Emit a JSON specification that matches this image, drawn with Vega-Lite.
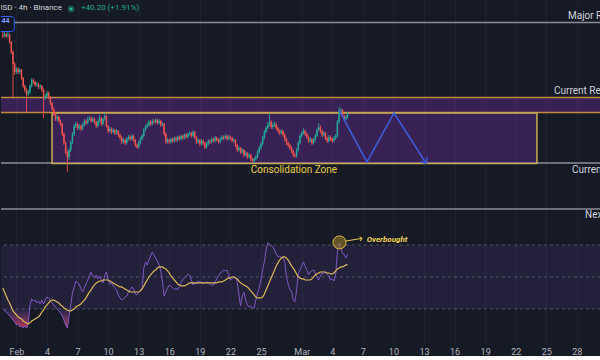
{
"$schema":"https://vega.github.io/schema/vega-lite/v6.json",
"background":"#161a25","padding":0,"spacing":0,
"config":{"view":{"stroke":null},"font":"Roboto"},
"datasets":{
"k":[
{"t":"2025-01-30T16:00Z","o":2330,"h":2336,"l":2324,"c":2328,"r":30.0,"m":43.1},
{"t":"2025-01-30T20:00Z","o":2328,"h":2336,"l":2325,"c":2332,"r":28.8,"m":40.6},
{"t":"2025-01-31T00:00Z","o":2332,"h":2334,"l":2324,"c":2328,"r":28.1,"m":38.1},
{"t":"2025-01-31T04:00Z","o":2328,"h":2340,"l":2325,"c":2330,"r":26.9,"m":35.6},
{"t":"2025-01-31T08:00Z","o":2330,"h":2333,"l":2313,"c":2316,"r":25.6,"m":33.8},
{"t":"2025-01-31T12:00Z","o":2316,"h":2318,"l":2292,"c":2296,"r":24.4,"m":31.3},
{"t":"2025-01-31T16:00Z","o":2296,"h":2299,"l":2206,"c":2272,"r":23.1,"m":28.8},
{"t":"2025-01-31T20:00Z","o":2272,"h":2276,"l":2250,"c":2256,"r":21.9,"m":27.5},
{"t":"2025-02-01T00:00Z","o":2256,"h":2266,"l":2252,"c":2262,"r":20.0,"m":26.3},
{"t":"2025-02-01T04:00Z","o":2262,"h":2265,"l":2252,"c":2256,"r":20.6,"m":25.0},
{"t":"2025-02-01T08:00Z","o":2256,"h":2264,"l":2252,"c":2260,"r":18.8,"m":24.4},
{"t":"2025-02-01T12:00Z","o":2260,"h":2262,"l":2240,"c":2244,"r":19.4,"m":23.8},
{"t":"2025-02-01T16:00Z","o":2244,"h":2246,"l":2224,"c":2228,"r":18.1,"m":22.5},
{"t":"2025-02-01T20:00Z","o":2228,"h":2231,"l":2215,"c":2220,"r":19.4,"m":21.9},
{"t":"2025-02-02T00:00Z","o":2220,"h":2223,"l":2176,"c":2212,"r":18.1,"m":21.3},
{"t":"2025-02-02T04:00Z","o":2212,"h":2220,"l":2208,"c":2216,"r":20.6,"m":20.6},
{"t":"2025-02-02T08:00Z","o":2216,"h":2231,"l":2212,"c":2228,"r":32.5,"m":21.3},
{"t":"2025-02-02T12:00Z","o":2228,"h":2244,"l":2225,"c":2240,"r":36.3,"m":22.5},
{"t":"2025-02-02T16:00Z","o":2240,"h":2243,"l":2232,"c":2236,"r":35.0,"m":23.1},
{"t":"2025-02-02T20:00Z","o":2236,"h":2239,"l":2226,"c":2230,"r":35.6,"m":23.8},
{"t":"2025-02-03T00:00Z","o":2230,"h":2236,"l":2227,"c":2232,"r":33.8,"m":24.4},
{"t":"2025-02-03T04:00Z","o":2232,"h":2235,"l":2222,"c":2226,"r":35.0,"m":25.0},
{"t":"2025-02-03T08:00Z","o":2226,"h":2232,"l":2223,"c":2228,"r":33.1,"m":26.3},
{"t":"2025-02-03T12:00Z","o":2228,"h":2230,"l":2216,"c":2220,"r":35.6,"m":28.1},
{"t":"2025-02-03T16:00Z","o":2220,"h":2223,"l":2164,"c":2204,"r":33.1,"m":29.4},
{"t":"2025-02-03T20:00Z","o":2204,"h":2212,"l":2200,"c":2208,"r":35.6,"m":31.3},
{"t":"2025-02-04T00:00Z","o":2208,"h":2218,"l":2205,"c":2214,"r":37.5,"m":32.5},
{"t":"2025-02-04T04:00Z","o":2214,"h":2217,"l":2202,"c":2206,"r":36.9,"m":33.8},
{"t":"2025-02-04T08:00Z","o":2206,"h":2208,"l":2190,"c":2194,"r":35.0,"m":35.0},
{"t":"2025-02-04T12:00Z","o":2194,"h":2196,"l":2178,"c":2182,"r":33.8,"m":35.6},
{"t":"2025-02-04T16:00Z","o":2182,"h":2185,"l":2168,"c":2172,"r":32.5,"m":35.6},
{"t":"2025-02-04T20:00Z","o":2172,"h":2175,"l":2158,"c":2162,"r":31.3,"m":35.0},
{"t":"2025-02-05T00:00Z","o":2162,"h":2170,"l":2158,"c":2166,"r":30.0,"m":34.4},
{"t":"2025-02-05T04:00Z","o":2166,"h":2168,"l":2154,"c":2158,"r":28.8,"m":33.8},
{"t":"2025-02-05T08:00Z","o":2158,"h":2161,"l":2148,"c":2152,"r":27.5,"m":32.5},
{"t":"2025-02-05T12:00Z","o":2152,"h":2154,"l":2128,"c":2132,"r":25.6,"m":31.9},
{"t":"2025-02-05T16:00Z","o":2132,"h":2135,"l":2110,"c":2114,"r":23.1,"m":30.6},
{"t":"2025-02-05T20:00Z","o":2114,"h":2117,"l":2092,"c":2096,"r":20.0,"m":30.0},
{"t":"2025-02-06T00:00Z","o":2096,"h":2099,"l":2056,"c":2086,"r":18.1,"m":29.4},
{"t":"2025-02-06T04:00Z","o":2086,"h":2104,"l":2080,"c":2100,"r":25.6,"m":28.8},
{"t":"2025-02-06T08:00Z","o":2100,"h":2119,"l":2096,"c":2116,"r":32.5,"m":28.8},
{"t":"2025-02-06T12:00Z","o":2116,"h":2135,"l":2112,"c":2132,"r":40.0,"m":29.4},
{"t":"2025-02-06T16:00Z","o":2132,"h":2152,"l":2128,"c":2148,"r":43.8,"m":30.0},
{"t":"2025-02-06T20:00Z","o":2148,"h":2157,"l":2144,"c":2152,"r":47.5,"m":31.3},
{"t":"2025-02-07T00:00Z","o":2152,"h":2155,"l":2140,"c":2144,"r":46.3,"m":31.9},
{"t":"2025-02-07T04:00Z","o":2144,"h":2152,"l":2140,"c":2148,"r":45.6,"m":32.5},
{"t":"2025-02-07T08:00Z","o":2148,"h":2151,"l":2138,"c":2142,"r":42.5,"m":33.1},
{"t":"2025-02-07T12:00Z","o":2142,"h":2154,"l":2139,"c":2150,"r":40.6,"m":34.4},
{"t":"2025-02-07T16:00Z","o":2150,"h":2162,"l":2147,"c":2158,"r":43.1,"m":35.6},
{"t":"2025-02-07T20:00Z","o":2158,"h":2161,"l":2150,"c":2154,"r":45.6,"m":36.9},
{"t":"2025-02-08T00:00Z","o":2154,"h":2166,"l":2151,"c":2162,"r":48.1,"m":38.8},
{"t":"2025-02-08T04:00Z","o":2162,"h":2168,"l":2159,"c":2164,"r":50.6,"m":40.6},
{"t":"2025-02-08T08:00Z","o":2164,"h":2167,"l":2155,"c":2158,"r":53.1,"m":41.9},
{"t":"2025-02-08T12:00Z","o":2158,"h":2166,"l":2155,"c":2162,"r":50.6,"m":43.8},
{"t":"2025-02-08T16:00Z","o":2162,"h":2165,"l":2152,"c":2156,"r":49.4,"m":45.0},
{"t":"2025-02-08T20:00Z","o":2156,"h":2158,"l":2144,"c":2148,"r":51.3,"m":46.3},
{"t":"2025-02-09T00:00Z","o":2148,"h":2161,"l":2145,"c":2158,"r":48.8,"m":46.9},
{"t":"2025-02-09T04:00Z","o":2158,"h":2170,"l":2155,"c":2164,"r":50.6,"m":47.5},
{"t":"2025-02-09T08:00Z","o":2164,"h":2166,"l":2148,"c":2152,"r":48.1,"m":47.5},
{"t":"2025-02-09T12:00Z","o":2152,"h":2165,"l":2149,"c":2162,"r":46.3,"m":48.1},
{"t":"2025-02-09T16:00Z","o":2162,"h":2174,"l":2159,"c":2168,"r":50.6,"m":48.1},
{"t":"2025-02-09T20:00Z","o":2168,"h":2170,"l":2145,"c":2148,"r":53.1,"m":48.1},
{"t":"2025-02-10T00:00Z","o":2148,"h":2150,"l":2134,"c":2138,"r":48.1,"m":48.1},
{"t":"2025-02-10T04:00Z","o":2138,"h":2146,"l":2135,"c":2142,"r":45.6,"m":47.5},
{"t":"2025-02-10T08:00Z","o":2142,"h":2145,"l":2132,"c":2136,"r":46.3,"m":46.9},
{"t":"2025-02-10T12:00Z","o":2136,"h":2144,"l":2133,"c":2140,"r":44.4,"m":46.3},
{"t":"2025-02-10T16:00Z","o":2140,"h":2142,"l":2130,"c":2134,"r":43.1,"m":45.6},
{"t":"2025-02-10T20:00Z","o":2134,"h":2142,"l":2131,"c":2138,"r":41.9,"m":45.0},
{"t":"2025-02-11T00:00Z","o":2138,"h":2140,"l":2126,"c":2130,"r":38.8,"m":44.4},
{"t":"2025-02-11T04:00Z","o":2130,"h":2133,"l":2120,"c":2124,"r":36.9,"m":43.8},
{"t":"2025-02-11T08:00Z","o":2124,"h":2127,"l":2112,"c":2116,"r":35.6,"m":43.8},
{"t":"2025-02-11T12:00Z","o":2116,"h":2124,"l":2113,"c":2120,"r":36.3,"m":43.1},
{"t":"2025-02-11T16:00Z","o":2120,"h":2123,"l":2110,"c":2114,"r":37.5,"m":42.5},
{"t":"2025-02-11T20:00Z","o":2114,"h":2126,"l":2111,"c":2122,"r":38.1,"m":41.9},
{"t":"2025-02-12T00:00Z","o":2122,"h":2130,"l":2119,"c":2126,"r":40.6,"m":41.3},
{"t":"2025-02-12T04:00Z","o":2126,"h":2129,"l":2118,"c":2122,"r":41.9,"m":40.6},
{"t":"2025-02-12T08:00Z","o":2122,"h":2132,"l":2119,"c":2128,"r":43.8,"m":40.6},
{"t":"2025-02-12T12:00Z","o":2128,"h":2131,"l":2116,"c":2120,"r":42.5,"m":40.6},
{"t":"2025-02-12T16:00Z","o":2120,"h":2122,"l":2106,"c":2110,"r":39.4,"m":40.6},
{"t":"2025-02-12T20:00Z","o":2110,"h":2113,"l":2102,"c":2106,"r":38.8,"m":40.6},
{"t":"2025-02-13T00:00Z","o":2106,"h":2118,"l":2103,"c":2114,"r":40.6,"m":40.6},
{"t":"2025-02-13T04:00Z","o":2114,"h":2126,"l":2111,"c":2122,"r":41.3,"m":41.3},
{"t":"2025-02-13T08:00Z","o":2122,"h":2132,"l":2119,"c":2128,"r":43.1,"m":42.5},
{"t":"2025-02-13T12:00Z","o":2128,"h":2144,"l":2125,"c":2140,"r":55.6,"m":44.4},
{"t":"2025-02-13T16:00Z","o":2140,"h":2150,"l":2137,"c":2146,"r":59.4,"m":46.3},
{"t":"2025-02-13T20:00Z","o":2146,"h":2154,"l":2143,"c":2150,"r":57.5,"m":48.1},
{"t":"2025-02-14T00:00Z","o":2150,"h":2160,"l":2147,"c":2156,"r":60.6,"m":50.0},
{"t":"2025-02-14T04:00Z","o":2156,"h":2159,"l":2148,"c":2152,"r":63.1,"m":51.3},
{"t":"2025-02-14T08:00Z","o":2152,"h":2162,"l":2149,"c":2158,"r":65.6,"m":52.5},
{"t":"2025-02-14T12:00Z","o":2158,"h":2161,"l":2152,"c":2156,"r":63.8,"m":53.8},
{"t":"2025-02-14T16:00Z","o":2156,"h":2164,"l":2153,"c":2160,"r":61.9,"m":54.4},
{"t":"2025-02-14T20:00Z","o":2160,"h":2163,"l":2151,"c":2154,"r":60.0,"m":55.6},
{"t":"2025-02-15T00:00Z","o":2154,"h":2162,"l":2151,"c":2158,"r":57.5,"m":56.3},
{"t":"2025-02-15T04:00Z","o":2158,"h":2160,"l":2146,"c":2150,"r":54.4,"m":56.3},
{"t":"2025-02-15T08:00Z","o":2150,"h":2156,"l":2147,"c":2152,"r":46.9,"m":56.3},
{"t":"2025-02-15T12:00Z","o":2152,"h":2154,"l":2128,"c":2132,"r":38.1,"m":55.6},
{"t":"2025-02-15T16:00Z","o":2132,"h":2135,"l":2112,"c":2116,"r":40.6,"m":55.0},
{"t":"2025-02-15T20:00Z","o":2116,"h":2124,"l":2113,"c":2120,"r":43.1,"m":53.8},
{"t":"2025-02-16T00:00Z","o":2120,"h":2123,"l":2112,"c":2116,"r":45.0,"m":52.5},
{"t":"2025-02-16T04:00Z","o":2116,"h":2125,"l":2113,"c":2122,"r":44.4,"m":50.6},
{"t":"2025-02-16T08:00Z","o":2122,"h":2125,"l":2114,"c":2118,"r":43.1,"m":49.4},
{"t":"2025-02-16T12:00Z","o":2118,"h":2127,"l":2115,"c":2124,"r":41.9,"m":48.1},
{"t":"2025-02-16T16:00Z","o":2124,"h":2127,"l":2116,"c":2120,"r":43.1,"m":46.9},
{"t":"2025-02-16T20:00Z","o":2120,"h":2129,"l":2117,"c":2126,"r":41.9,"m":45.6},
{"t":"2025-02-17T00:00Z","o":2126,"h":2129,"l":2119,"c":2122,"r":44.4,"m":45.0},
{"t":"2025-02-17T04:00Z","o":2122,"h":2131,"l":2119,"c":2128,"r":46.3,"m":44.4},
{"t":"2025-02-17T08:00Z","o":2128,"h":2131,"l":2121,"c":2124,"r":48.8,"m":44.4},
{"t":"2025-02-17T12:00Z","o":2124,"h":2133,"l":2121,"c":2130,"r":49.4,"m":44.4},
{"t":"2025-02-17T16:00Z","o":2130,"h":2133,"l":2123,"c":2126,"r":50.6,"m":45.0},
{"t":"2025-02-17T20:00Z","o":2126,"h":2135,"l":2123,"c":2132,"r":51.9,"m":45.6},
{"t":"2025-02-18T00:00Z","o":2132,"h":2138,"l":2129,"c":2134,"r":51.3,"m":46.3},
{"t":"2025-02-18T04:00Z","o":2134,"h":2136,"l":2125,"c":2128,"r":48.1,"m":46.3},
{"t":"2025-02-18T08:00Z","o":2128,"h":2140,"l":2125,"c":2136,"r":45.0,"m":46.3},
{"t":"2025-02-18T12:00Z","o":2136,"h":2138,"l":2122,"c":2126,"r":46.3,"m":46.3},
{"t":"2025-02-18T16:00Z","o":2126,"h":2128,"l":2112,"c":2116,"r":45.6,"m":46.3},
{"t":"2025-02-18T20:00Z","o":2116,"h":2124,"l":2113,"c":2120,"r":47.5,"m":46.3},
{"t":"2025-02-19T00:00Z","o":2120,"h":2122,"l":2108,"c":2112,"r":46.9,"m":46.3},
{"t":"2025-02-19T04:00Z","o":2112,"h":2122,"l":2109,"c":2118,"r":46.9,"m":46.3},
{"t":"2025-02-19T08:00Z","o":2118,"h":2121,"l":2110,"c":2114,"r":45.6,"m":46.3},
{"t":"2025-02-19T12:00Z","o":2114,"h":2116,"l":2102,"c":2106,"r":46.3,"m":46.3},
{"t":"2025-02-19T16:00Z","o":2106,"h":2116,"l":2103,"c":2112,"r":46.9,"m":46.3},
{"t":"2025-02-19T20:00Z","o":2112,"h":2122,"l":2109,"c":2118,"r":46.3,"m":46.3},
{"t":"2025-02-20T00:00Z","o":2118,"h":2121,"l":2112,"c":2116,"r":45.6,"m":46.3},
{"t":"2025-02-20T04:00Z","o":2116,"h":2126,"l":2113,"c":2122,"r":45.0,"m":46.3},
{"t":"2025-02-20T08:00Z","o":2122,"h":2125,"l":2115,"c":2118,"r":45.0,"m":46.3},
{"t":"2025-02-20T12:00Z","o":2118,"h":2128,"l":2115,"c":2124,"r":46.9,"m":46.3},
{"t":"2025-02-20T16:00Z","o":2124,"h":2127,"l":2117,"c":2120,"r":48.8,"m":46.3},
{"t":"2025-02-20T20:00Z","o":2120,"h":2123,"l":2113,"c":2116,"r":50.6,"m":46.9},
{"t":"2025-02-21T00:00Z","o":2116,"h":2126,"l":2113,"c":2122,"r":52.5,"m":46.9},
{"t":"2025-02-21T04:00Z","o":2122,"h":2130,"l":2119,"c":2126,"r":53.1,"m":46.9},
{"t":"2025-02-21T08:00Z","o":2126,"h":2129,"l":2120,"c":2124,"r":54.4,"m":47.5},
{"t":"2025-02-21T12:00Z","o":2124,"h":2132,"l":2121,"c":2128,"r":53.8,"m":48.1},
{"t":"2025-02-21T16:00Z","o":2128,"h":2131,"l":2119,"c":2122,"r":54.4,"m":48.8},
{"t":"2025-02-21T20:00Z","o":2122,"h":2130,"l":2119,"c":2126,"r":51.3,"m":49.4},
{"t":"2025-02-22T00:00Z","o":2126,"h":2129,"l":2121,"c":2124,"r":48.1,"m":49.4},
{"t":"2025-02-22T04:00Z","o":2124,"h":2127,"l":2115,"c":2118,"r":48.8,"m":50.0},
{"t":"2025-02-22T08:00Z","o":2118,"h":2124,"l":2115,"c":2120,"r":50.0,"m":50.0},
{"t":"2025-02-22T12:00Z","o":2120,"h":2122,"l":2106,"c":2110,"r":50.0,"m":49.4},
{"t":"2025-02-22T16:00Z","o":2110,"h":2112,"l":2096,"c":2100,"r":46.9,"m":48.8},
{"t":"2025-02-22T20:00Z","o":2100,"h":2108,"l":2097,"c":2104,"r":38.8,"m":47.5},
{"t":"2025-02-23T00:00Z","o":2104,"h":2106,"l":2092,"c":2096,"r":31.9,"m":46.3},
{"t":"2025-02-23T04:00Z","o":2096,"h":2104,"l":2093,"c":2100,"r":38.1,"m":45.6},
{"t":"2025-02-23T08:00Z","o":2100,"h":2102,"l":2086,"c":2090,"r":40.6,"m":45.0},
{"t":"2025-02-23T12:00Z","o":2090,"h":2098,"l":2087,"c":2094,"r":35.6,"m":44.4},
{"t":"2025-02-23T16:00Z","o":2094,"h":2096,"l":2082,"c":2086,"r":32.5,"m":43.8},
{"t":"2025-02-23T20:00Z","o":2086,"h":2094,"l":2083,"c":2090,"r":31.3,"m":42.5},
{"t":"2025-02-24T00:00Z","o":2090,"h":2092,"l":2078,"c":2082,"r":31.9,"m":41.3},
{"t":"2025-02-24T04:00Z","o":2082,"h":2085,"l":2075,"c":2078,"r":30.6,"m":40.0},
{"t":"2025-02-24T08:00Z","o":2078,"h":2085,"l":2074,"c":2082,"r":30.6,"m":38.8},
{"t":"2025-02-24T12:00Z","o":2082,"h":2090,"l":2079,"c":2086,"r":35.6,"m":37.5},
{"t":"2025-02-24T16:00Z","o":2086,"h":2100,"l":2083,"c":2096,"r":40.0,"m":36.9},
{"t":"2025-02-24T20:00Z","o":2096,"h":2108,"l":2093,"c":2104,"r":43.1,"m":36.9},
{"t":"2025-02-25T00:00Z","o":2104,"h":2116,"l":2101,"c":2112,"r":48.1,"m":36.9},
{"t":"2025-02-25T04:00Z","o":2112,"h":2128,"l":2109,"c":2124,"r":54.4,"m":37.5},
{"t":"2025-02-25T08:00Z","o":2124,"h":2140,"l":2121,"c":2136,"r":59.4,"m":39.4},
{"t":"2025-02-25T12:00Z","o":2136,"h":2148,"l":2133,"c":2144,"r":66.9,"m":41.9},
{"t":"2025-02-25T16:00Z","o":2144,"h":2156,"l":2141,"c":2150,"r":71.3,"m":44.4},
{"t":"2025-02-25T20:00Z","o":2150,"h":2174,"l":2147,"c":2156,"r":70.6,"m":46.9},
{"t":"2025-02-26T00:00Z","o":2156,"h":2160,"l":2142,"c":2146,"r":69.4,"m":49.4},
{"t":"2025-02-26T04:00Z","o":2146,"h":2155,"l":2142,"c":2150,"r":68.8,"m":51.9},
{"t":"2025-02-26T08:00Z","o":2150,"h":2157,"l":2146,"c":2152,"r":66.9,"m":54.4},
{"t":"2025-02-26T12:00Z","o":2152,"h":2155,"l":2140,"c":2144,"r":64.4,"m":56.9},
{"t":"2025-02-26T16:00Z","o":2144,"h":2147,"l":2134,"c":2138,"r":62.5,"m":58.8},
{"t":"2025-02-26T20:00Z","o":2138,"h":2141,"l":2130,"c":2134,"r":63.1,"m":60.6},
{"t":"2025-02-27T00:00Z","o":2134,"h":2142,"l":2131,"c":2138,"r":61.9,"m":61.9},
{"t":"2025-02-27T04:00Z","o":2138,"h":2140,"l":2126,"c":2130,"r":61.9,"m":62.5},
{"t":"2025-02-27T08:00Z","o":2130,"h":2133,"l":2118,"c":2122,"r":59.4,"m":62.5},
{"t":"2025-02-27T12:00Z","o":2122,"h":2125,"l":2110,"c":2114,"r":50.0,"m":61.9},
{"t":"2025-02-27T16:00Z","o":2114,"h":2117,"l":2106,"c":2110,"r":45.6,"m":60.6},
{"t":"2025-02-27T20:00Z","o":2110,"h":2113,"l":2100,"c":2104,"r":41.9,"m":58.8},
{"t":"2025-02-28T00:00Z","o":2104,"h":2107,"l":2094,"c":2098,"r":41.3,"m":56.9},
{"t":"2025-02-28T04:00Z","o":2098,"h":2101,"l":2086,"c":2090,"r":35.6,"m":55.6},
{"t":"2025-02-28T08:00Z","o":2090,"h":2094,"l":2084,"c":2088,"r":34.4,"m":53.8},
{"t":"2025-02-28T12:00Z","o":2088,"h":2104,"l":2085,"c":2100,"r":41.9,"m":51.9},
{"t":"2025-02-28T16:00Z","o":2100,"h":2118,"l":2097,"c":2114,"r":51.9,"m":50.0},
{"t":"2025-02-28T20:00Z","o":2114,"h":2132,"l":2111,"c":2128,"r":54.4,"m":49.4},
{"t":"2025-03-01T00:00Z","o":2128,"h":2138,"l":2125,"c":2134,"r":56.9,"m":48.8},
{"t":"2025-03-01T04:00Z","o":2134,"h":2144,"l":2131,"c":2138,"r":59.4,"m":48.8},
{"t":"2025-03-01T08:00Z","o":2138,"h":2141,"l":2128,"c":2132,"r":56.9,"m":48.1},
{"t":"2025-03-01T12:00Z","o":2132,"h":2135,"l":2122,"c":2126,"r":54.4,"m":48.1},
{"t":"2025-03-01T16:00Z","o":2126,"h":2129,"l":2114,"c":2118,"r":51.3,"m":48.1},
{"t":"2025-03-01T20:00Z","o":2118,"h":2126,"l":2115,"c":2122,"r":53.1,"m":48.1},
{"t":"2025-03-02T00:00Z","o":2122,"h":2124,"l":2110,"c":2114,"r":53.8,"m":48.8},
{"t":"2025-03-02T04:00Z","o":2114,"h":2124,"l":2111,"c":2120,"r":54.4,"m":50.0},
{"t":"2025-03-02T08:00Z","o":2120,"h":2132,"l":2117,"c":2128,"r":52.5,"m":51.3},
{"t":"2025-03-02T12:00Z","o":2128,"h":2144,"l":2125,"c":2140,"r":50.0,"m":51.9},
{"t":"2025-03-02T16:00Z","o":2140,"h":2154,"l":2137,"c":2146,"r":48.1,"m":52.5},
{"t":"2025-03-02T20:00Z","o":2146,"h":2149,"l":2134,"c":2138,"r":50.6,"m":53.1},
{"t":"2025-03-03T00:00Z","o":2138,"h":2141,"l":2126,"c":2130,"r":52.5,"m":53.1},
{"t":"2025-03-03T04:00Z","o":2130,"h":2138,"l":2127,"c":2134,"r":51.9,"m":53.1},
{"t":"2025-03-03T08:00Z","o":2134,"h":2136,"l":2120,"c":2124,"r":53.1,"m":53.1},
{"t":"2025-03-03T12:00Z","o":2124,"h":2127,"l":2114,"c":2118,"r":51.3,"m":52.5},
{"t":"2025-03-03T16:00Z","o":2118,"h":2130,"l":2115,"c":2126,"r":50.6,"m":52.5},
{"t":"2025-03-03T20:00Z","o":2126,"h":2129,"l":2118,"c":2122,"r":48.1,"m":51.9},
{"t":"2025-03-04T00:00Z","o":2122,"h":2125,"l":2114,"c":2118,"r":48.8,"m":51.9},
{"t":"2025-03-04T04:00Z","o":2118,"h":2128,"l":2115,"c":2124,"r":47.5,"m":52.5},
{"t":"2025-03-04T08:00Z","o":2124,"h":2132,"l":2121,"c":2128,"r":51.3,"m":53.8},
{"t":"2025-03-04T12:00Z","o":2128,"h":2160,"l":2125,"c":2156,"r":65.6,"m":55.0},
{"t":"2025-03-04T16:00Z","o":2156,"h":2186,"l":2153,"c":2178,"r":71.3,"m":55.6},
{"t":"2025-03-04T20:00Z","o":2178,"h":2184,"l":2172,"c":2180,"r":68.1,"m":56.3},
{"t":"2025-03-05T00:00Z","o":2180,"h":2182,"l":2164,"c":2168,"r":65.0,"m":56.3},
{"t":"2025-03-05T04:00Z","o":2168,"h":2170,"l":2158,"c":2162,"r":63.8,"m":56.9},
{"t":"2025-03-05T08:00Z","o":2162,"h":2170,"l":2159,"c":2166,"r":61.9,"m":57.5},
{"t":"2025-03-05T12:00Z","o":2166,"h":2176,"l":2162,"c":2172,"r":64.4,"m":57.5}
],
"os":[
{"t":"2025-01-30T16:00Z","r":30.0,"s":"a"},{"t":"2025-01-30T20:00Z","r":28.8,"s":"a"},{"t":"2025-01-31T00:00Z","r":28.1,"s":"a"},{"t":"2025-01-31T04:00Z","r":26.9,"s":"a"},{"t":"2025-01-31T08:00Z","r":25.6,"s":"a"},{"t":"2025-01-31T12:00Z","r":24.4,"s":"a"},{"t":"2025-01-31T16:00Z","r":23.1,"s":"a"},{"t":"2025-01-31T20:00Z","r":21.9,"s":"a"},{"t":"2025-02-01T00:00Z","r":20.0,"s":"a"},{"t":"2025-02-01T04:00Z","r":20.6,"s":"a"},{"t":"2025-02-01T08:00Z","r":18.8,"s":"a"},{"t":"2025-02-01T12:00Z","r":19.4,"s":"a"},{"t":"2025-02-01T16:00Z","r":18.1,"s":"a"},{"t":"2025-02-01T20:00Z","r":19.4,"s":"a"},{"t":"2025-02-02T00:00Z","r":18.1,"s":"a"},{"t":"2025-02-02T04:00Z","r":20.6,"s":"a"},{"t":"2025-02-02T07:10Z","r":30.0,"s":"a"},
{"t":"2025-02-05T00:00Z","r":30.0,"s":"b"},{"t":"2025-02-05T04:00Z","r":28.8,"s":"b"},{"t":"2025-02-05T08:00Z","r":27.5,"s":"b"},{"t":"2025-02-05T12:00Z","r":25.6,"s":"b"},{"t":"2025-02-05T16:00Z","r":23.1,"s":"b"},{"t":"2025-02-05T20:00Z","r":20.0,"s":"b"},{"t":"2025-02-06T00:00Z","r":18.1,"s":"b"},{"t":"2025-02-06T04:00Z","r":25.6,"s":"b"},{"t":"2025-02-06T06:33Z","r":30.0,"s":"b"}
]
},
"vconcat":[
{
"width":600,"height":228,
"encoding":{"x":{"field":"t","type":"temporal","scale":{"type":"utc","domain":[{"year":2025,"month":1,"date":30,"hours":11,"minutes":44,"utc":true},{"year":2025,"month":3,"date":30,"hours":8,"minutes":53,"utc":true}]},
"axis":{"title":null,"labels":false,"ticks":false,"domain":false,"grid":true,"gridColor":"#1f2330","values":[{"year":2025,"month":2,"date":1,"utc":true},{"year":2025,"month":2,"date":4,"utc":true},{"year":2025,"month":2,"date":7,"utc":true},{"year":2025,"month":2,"date":10,"utc":true},{"year":2025,"month":2,"date":13,"utc":true},{"year":2025,"month":2,"date":16,"utc":true},{"year":2025,"month":2,"date":19,"utc":true},{"year":2025,"month":2,"date":22,"utc":true},{"year":2025,"month":2,"date":25,"utc":true},{"year":2025,"month":3,"date":1,"utc":true},{"year":2025,"month":3,"date":4,"utc":true},{"year":2025,"month":3,"date":7,"utc":true},{"year":2025,"month":3,"date":10,"utc":true},{"year":2025,"month":3,"date":13,"utc":true},{"year":2025,"month":3,"date":16,"utc":true},{"year":2025,"month":3,"date":19,"utc":true},{"year":2025,"month":3,"date":22,"utc":true},{"year":2025,"month":3,"date":25,"utc":true},{"year":2025,"month":3,"date":28,"utc":true}]}}},
"layer":[
{"data":{"values":[{"t":"2025-01-29T00:00Z","t2":"2025-04-05T00:00Z","p":2355},{"t":"2025-01-29T00:00Z","t2":"2025-04-05T00:00Z","p":2074},{"t":"2025-01-29T00:00Z","t2":"2025-04-05T00:00Z","p":1982}]},
 "mark":{"type":"rule","color":"#8c8f98","strokeWidth":1.5,"clip":true},
 "encoding":{"x2":{"field":"t2"},"y":{"field":"p","type":"quantitative","scale":{"domain":[1944,2400],"zero":false,"nice":false},"axis":null}}},
{"data":{"values":[{"t":"2025-01-29T00:00Z","t2":"2025-04-05T00:00Z","p":2175,"p2":2205}]},
 "mark":{"type":"rect","fill":"#6a2a98","fillOpacity":0.42,"stroke":"#c5893e","strokeWidth":1.5,"clip":true},
 "encoding":{"x2":{"field":"t2"},"y":{"field":"p","type":"quantitative","scale":{"domain":[1944,2400],"zero":false,"nice":false},"axis":null},"y2":{"field":"p2"}}},
{"data":{"values":[{"t":"2025-02-04T11:50Z","t2":"2025-03-24T02:00Z","p":2073,"p2":2174}]},
 "mark":{"type":"rect","fill":"#6a2a98","fillOpacity":0.42,"stroke":"#c8ad55","strokeWidth":1.5,"clip":true},
 "encoding":{"x2":{"field":"t2"},"y":{"field":"p","type":"quantitative","scale":{"domain":[1944,2400],"zero":false,"nice":false},"axis":null},"y2":{"field":"p2"}}},
{"data":{"name":"k"},
 "mark":{"type":"rule","strokeWidth":0.9},
 "encoding":{"y":{"field":"l","type":"quantitative","scale":{"domain":[1944,2400],"zero":false,"nice":false},"axis":null},"y2":{"field":"h"},
 "color":{"condition":{"test":"datum.c >= datum.o","value":"#26a69a"},"value":"#ef5350"}}},
{"data":{"name":"k"},
 "mark":{"type":"rule","strokeWidth":1.5},
 "encoding":{"y":{"field":"o","type":"quantitative","scale":{"domain":[1944,2400],"zero":false,"nice":false},"axis":null},"y2":{"field":"c"},
 "color":{"condition":{"test":"datum.c >= datum.o","value":"#26a69a"},"value":"#ef5350"}}},
{"data":{"values":[{"t":"2025-03-04T15:36Z","p":2180},{"t":"2025-03-07T09:36Z","p":2076},{"t":"2025-03-10T01:12Z","p":2174},{"t":"2025-03-13T04:48Z","p":2074}]},
 "mark":{"type":"line","color":"#3c5ad2","strokeWidth":1.6},
 "encoding":{"y":{"field":"p","type":"quantitative","scale":{"domain":[1944,2400],"zero":false,"nice":false},"axis":null}}},
{"data":{"values":[{"t":"2025-03-13T04:48Z","p":2074}]},
 "mark":{"type":"point","shape":"M-1,-1L0,0L-1,1","filled":false,"color":"#3c5ad2","strokeWidth":1.6,"size":70,"angle":57,"opacity":1},
 "encoding":{"y":{"field":"p","type":"quantitative","scale":{"domain":[1944,2400],"zero":false,"nice":false},"axis":null}}},
{"data":{"values":[{"t":"2025-03-27T03:07Z","p":2368,"s":"Major Resistance"},{"t":"2025-03-25T18:14Z","p":2218,"s":"Current Resistance"},{"t":"2025-03-27T12:30Z","p":2061,"s":"Current Support"},{"t":"2025-03-28T19:12Z","p":1970,"s":"Next Support"}]},
 "mark":{"type":"text","align":"left","baseline":"middle","fontSize":10,"color":"#d1d4dc","clip":true},
 "encoding":{"y":{"field":"p","type":"quantitative","scale":{"domain":[1944,2400],"zero":false,"nice":false},"axis":null},"text":{"field":"s"}}},
{"data":{"values":[{"t":"2025-02-28T05:45Z","p":2060,"s":"Consolidation Zone"}]},
 "mark":{"type":"text","align":"center","baseline":"middle","fontSize":10,"color":"#e9cf45"},
 "encoding":{"y":{"field":"p","type":"quantitative","scale":{"domain":[1944,2400],"zero":false,"nice":false},"axis":null},"text":{"field":"s"}}},
{"data":{"values":[{"t":"2025-02-05T11:24Z","p":2384,"s":"ETHUSD · 4h · Binance"}]},
 "mark":{"type":"text","align":"right","baseline":"middle","fontSize":8,"color":"#d1d4dc","clip":true},
 "encoding":{"y":{"field":"p","type":"quantitative","scale":{"domain":[1944,2400],"zero":false,"nice":false},"axis":null},"text":{"field":"s"}}},
{"data":{"values":[{"t":"2025-02-06T08:40Z","p":2382}]},
 "mark":{"type":"point","shape":"circle","filled":true,"size":22,"fill":"#2bbf9f","stroke":"#1a5a50","strokeWidth":2,"opacity":1},
 "encoding":{"y":{"field":"p","type":"quantitative","scale":{"domain":[1944,2400],"zero":false,"nice":false},"axis":null}}},
{"data":{"values":[{"t":"2025-02-07T08:10Z","p":2384,"s":"+40.20 (+1.91%)"}]},
 "mark":{"type":"text","align":"left","baseline":"middle","fontSize":8,"color":"#22ab94"},
 "encoding":{"y":{"field":"p","type":"quantitative","scale":{"domain":[1944,2400],"zero":false,"nice":false},"axis":null},"text":{"field":"s"}}},
{"data":{"values":[{"t":"2025-01-29T00:00Z","t2":"2025-01-31T19:03Z","p":2337,"p2":2367}]},
 "mark":{"type":"rect","fill":"#131722","stroke":"#2962ff","strokeWidth":1,"cornerRadius":3,"clip":true},
 "encoding":{"x2":{"field":"t2"},"y":{"field":"p","type":"quantitative","scale":{"domain":[1944,2400],"zero":false,"nice":false},"axis":null},"y2":{"field":"p2"}}},
{"data":{"values":[{"t":"2025-01-30T22:20Z","p":2359,"s":"44"}]},
 "mark":{"type":"text","align":"center","baseline":"middle","fontSize":7,"fontWeight":"bold","color":"#7d9aff","clip":true},
 "encoding":{"y":{"field":"p","type":"quantitative","scale":{"domain":[1944,2400],"zero":false,"nice":false},"axis":null},"text":{"field":"s"}}}
]
},
{
"width":600,"height":117,
"encoding":{"x":{"field":"t","type":"temporal","scale":{"type":"utc","domain":[{"year":2025,"month":1,"date":30,"hours":11,"minutes":44,"utc":true},{"year":2025,"month":3,"date":30,"hours":8,"minutes":53,"utc":true}]},
"axis":{"title":null,"ticks":false,"domain":false,"grid":true,"gridColor":"#1f2330","labelColor":"#b2b5be","labelFontSize":9,"labelPadding":2,"labelOverlap":false,"labelFlush":false,"labelBound":false,
"labelExpr":"utcdate(datum.value) == 1 ? utcFormat(datum.value, '%b') : utcdate(datum.value)",
"values":[{"year":2025,"month":2,"date":1,"utc":true},{"year":2025,"month":2,"date":4,"utc":true},{"year":2025,"month":2,"date":7,"utc":true},{"year":2025,"month":2,"date":10,"utc":true},{"year":2025,"month":2,"date":13,"utc":true},{"year":2025,"month":2,"date":16,"utc":true},{"year":2025,"month":2,"date":19,"utc":true},{"year":2025,"month":2,"date":22,"utc":true},{"year":2025,"month":2,"date":25,"utc":true},{"year":2025,"month":3,"date":1,"utc":true},{"year":2025,"month":3,"date":4,"utc":true},{"year":2025,"month":3,"date":7,"utc":true},{"year":2025,"month":3,"date":10,"utc":true},{"year":2025,"month":3,"date":13,"utc":true},{"year":2025,"month":3,"date":16,"utc":true},{"year":2025,"month":3,"date":19,"utc":true},{"year":2025,"month":3,"date":22,"utc":true},{"year":2025,"month":3,"date":25,"utc":true},{"year":2025,"month":3,"date":28,"utc":true}]}}},
"layer":[
{"data":{"values":[{"t":"2025-01-29T00:00Z","t2":"2025-04-05T00:00Z","a":30,"b":70}]},
 "mark":{"type":"rect","fill":"#7e57c2","fillOpacity":0.13,"clip":true},
 "encoding":{"x2":{"field":"t2"},"y":{"field":"a","type":"quantitative","scale":{"domain":[7.5,80.6],"zero":false,"nice":false},"axis":null},"y2":{"field":"b"}}},
{"data":{"values":[{"t":"2025-01-29T00:00Z","t2":"2025-04-05T00:00Z","v":70},{"t":"2025-01-29T00:00Z","t2":"2025-04-05T00:00Z","v":50},{"t":"2025-01-29T00:00Z","t2":"2025-04-05T00:00Z","v":30}]},
 "mark":{"type":"rule","color":"#787b86","opacity":0.55,"strokeDash":[3,3],"strokeWidth":1,"clip":true},
 "encoding":{"x2":{"field":"t2"},"y":{"field":"v","type":"quantitative","scale":{"domain":[7.5,80.6],"zero":false,"nice":false},"axis":null}}},
{"data":{"name":"os"},
 "mark":{"type":"area","color":{"gradient":"linear","x1":0,"y1":0,"x2":0,"y2":1,"stops":[{"offset":0,"color":"rgba(126,87,194,0.15)"},{"offset":1,"color":"rgba(220,60,80,0.85)"}]}},
 "encoding":{"y":{"field":"r","type":"quantitative","scale":{"domain":[7.5,80.6],"zero":false,"nice":false},"axis":null},"y2":{"datum":30},"detail":{"field":"s"}}},
{"data":{"name":"k"},
 "mark":{"type":"line","color":"#7e57c2","strokeWidth":1},
 "encoding":{"y":{"field":"r","type":"quantitative","scale":{"domain":[7.5,80.6],"zero":false,"nice":false},"axis":null}}},
{"data":{"name":"k"},
 "mark":{"type":"line","color":"#dcb95a","strokeWidth":1.2},
 "encoding":{"y":{"field":"m","type":"quantitative","scale":{"domain":[7.5,80.6],"zero":false,"nice":false},"axis":null}}},
{"data":{"values":[{"t":"2025-03-04T17:00Z","v":71.6}]},
 "mark":{"type":"point","shape":"circle","filled":true,"size":170,"fill":"#8c7228","fillOpacity":0.65,"stroke":"#d8b840","strokeWidth":1,"opacity":1},
 "encoding":{"y":{"field":"v","type":"quantitative","scale":{"domain":[7.5,80.6],"zero":false,"nice":false},"axis":null}}},
{"data":{"values":[{"t":"2025-03-05T08:24Z","v":72.5},{"t":"2025-03-06T22:00Z","v":74.1}]},
 "mark":{"type":"line","color":"#e8c84a","strokeWidth":1},
 "encoding":{"y":{"field":"v","type":"quantitative","scale":{"domain":[7.5,80.6],"zero":false,"nice":false},"axis":null}}},
{"data":{"values":[{"t":"2025-03-06T22:00Z","v":74.1}]},
 "mark":{"type":"point","shape":"M-1,-1L0,0L-1,1","filled":false,"color":"#e8c84a","strokeWidth":1,"size":20,"angle":-9,"opacity":1},
 "encoding":{"y":{"field":"v","type":"quantitative","scale":{"domain":[7.5,80.6],"zero":false,"nice":false},"axis":null}}},
{"data":{"values":[{"t":"2025-03-07T09:00Z","v":73.1,"s":"Overbought"}]},
 "mark":{"type":"text","align":"left","baseline":"middle","fontSize":8,"fontStyle":"italic","fontWeight":"bold","color":"#f2d34f"},
 "encoding":{"y":{"field":"v","type":"quantitative","scale":{"domain":[7.5,80.6],"zero":false,"nice":false},"axis":null},"text":{"field":"s"}}}
]
}
]
}
